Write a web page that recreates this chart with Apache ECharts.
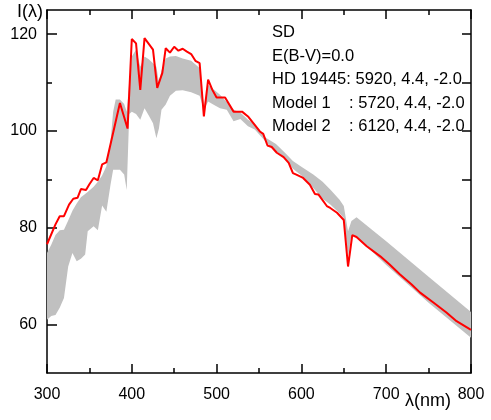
<!DOCTYPE html>
<html>
<head>
<meta charset="utf-8">
<script src="https://cdn.jsdelivr.net/npm/echarts@6/dist/echarts.min.js"></script>
<style>
html,body{margin:0;padding:0;background:#fff;}
#chart{width:491px;height:420px;}
</style>
</head>
<body>
<div id="chart"></div>
<script>
// Observed spectrum HD 19445 (red line)
const obsWave = [300,310,315,320,326,331,336,340,346,350,355,360,365,370,386,395,400,405,410,415,420,425,430,436,440,445,450,455,460,465,470,475,480,485,490,495,500,510,520,530,537,551,555,560,565,571,579,585,590,594,602,610,616,620,630,634,642,650,655,660,665,677,693,704,716,730,740,756,771,783,800];
const obsFlux = [76.6,80.7,82.4,82.4,84.8,86.0,86.2,88.0,87.8,89.0,90.3,89.8,93.1,93.5,105.8,100.5,119.0,118.1,108.5,119.2,118.0,116.8,108.9,112.0,117.1,116.2,117.4,116.6,117.0,116.4,115.9,114.5,114.0,103.0,110.6,108.5,106.9,106.9,104.0,104.0,103.0,99.9,99.4,97.0,96.7,95.5,94.6,93.4,91.3,91.0,90.3,88.9,87.0,86.9,84.5,84.1,83.1,81.6,72.0,78.5,78.1,76.2,74.1,72.4,70.4,68.3,66.6,64.5,62.5,60.7,58.9];

// Model range (grey band): lower and upper envelopes
const bandWave  = [300,305,310,315,320,325,330,335,340,345,348,355,360,365,370,375,378,381,386,391,394,397,400,405,410,415,420,425,429,432,435,440,445,452,460,470,480,485,490,496,504,512,520,528,537,545,558,570,580,590,600,614,625,634,645,650,655,659,665,700,750,800];
const bandLower = [61.0,61.8,62.0,63.5,65.5,72.0,74.8,73.1,73.6,74.5,79.3,80.3,79.5,84.6,83.3,89.0,92.0,92.0,92.0,91.0,87.8,103.5,104.0,103.5,102.3,104.7,103.2,101.6,98.5,100.5,104.4,105.5,107.3,108.3,108.4,108.0,107.3,104.4,106.1,105.5,104.7,104.4,102.0,102.5,101.0,100.3,97.8,95.8,94.6,92.2,90.8,88.2,86.0,84.8,83.0,82.0,74.0,78.5,78.2,72.3,64.5,57.3];
const bandUpper = [74.8,76.5,78.5,79.5,79.6,81.5,83.5,85.0,86.3,87.0,87.4,88.5,89.5,90.8,92.7,98.0,104.0,106.5,106.5,105.6,104.0,110.0,115.4,116.8,113.3,115.4,114.8,114.0,113.3,110.0,112.5,115.0,115.4,115.5,115.0,114.5,113.0,105.0,109.5,108.7,107.5,106.0,104.4,103.8,102.3,101.5,98.6,97.3,95.6,93.8,92.6,91.0,89.5,87.9,85.8,84.5,79.3,81.4,82.2,77.2,69.9,62.6];

const yLabels = [60,80,100,120];
const yMinor = [70,90,110];
const yAll = [60,70,80,90,100,110,120];

const legendLines = ['SD','E(B-V)=0.0','HD 19445: 5920, 4.4, -2.0','Model 1    : 5720, 4.4, -2.0','Model 2    : 6120, 4.4, -2.0'];

const FONT = 'Liberation Sans';
const chart = echarts.init(document.getElementById('chart'), null, {renderer:'canvas'});

const bandData = bandWave.map((w,i)=>[w,bandLower[i],bandUpper[i]]);
const obsData = obsWave.map((w,i)=>[w,obsFlux[i]]);

const axisLine = {show:true, lineStyle:{color:'#000', width:1.5}};
const labelStyle = {color:'#000', fontFamily:FONT, fontSize:16};

const legendGraphics = legendLines.map((t,i)=>({
  type:'text', left:272, top:24 + i*23.5, z:100,
  style:{text:t, fill:'#000', font:'16.5px "Liberation Sans"'}
}));

chart.setOption({
  animation:false,
  backgroundColor:'#fff',
  grid:{left:47, right:20, top:10, bottom:47},
  xAxis:[
    {type:'value', position:'bottom', min:300, max:800, interval:100,
     axisLine, splitLine:{show:false},
     axisTick:{show:true, inside:true, length:9, lineStyle:{color:'#000', width:1.5}},
     minorTick:{show:true, splitNumber:2, length:5, lineStyle:{color:'#000', width:1.5}},
     axisLabel:{...labelStyle, margin:14}},
    {type:'value', position:'top', min:300, max:800, interval:100,
     axisLine, splitLine:{show:false},
     axisTick:{show:true, inside:true, length:9, lineStyle:{color:'#000', width:1.5}},
     minorTick:{show:true, splitNumber:2, length:5, lineStyle:{color:'#000', width:1.5}},
     axisLabel:{show:false}}
  ],
  yAxis:[
    {type:'value', position:'left', min:50, max:125,
     axisLine, splitLine:{show:false},
     axisTick:{show:true, inside:true, length:10, customValues:yLabels, lineStyle:{color:'#000', width:1.5}},
     axisLabel:{...labelStyle, margin:10, customValues:yLabels}},
    {type:'value', position:'left', min:50, max:125,
     axisLine:{show:false}, splitLine:{show:false},
     axisTick:{show:true, inside:true, length:5, customValues:yMinor, lineStyle:{color:'#000', width:1.5}},
     axisLabel:{show:false}},
    {type:'value', position:'right', min:50, max:125,
     axisLine, splitLine:{show:false},
     axisTick:{show:true, inside:true, length:9, customValues:yAll, lineStyle:{color:'#000', width:1.5}},
     axisLabel:{show:false}}
  ],
  series:[
    {type:'custom', data:bandData, silent:true, z:1,
     encode:{x:0, y:[1,2]},
     renderItem:function(params, api){
       if (params.dataIndex !== 0) return null;
       const top = bandData.map(d=>api.coord([d[0], d[2]]));
       const bot = bandData.map(d=>api.coord([d[0], d[1]])).reverse();
       return {type:'polygon', shape:{points: top.concat(bot)}, style:{fill:'#c0c0c0'}};
     }},
    {type:'line', data:obsData, symbol:'none', lineStyle:{color:'#ff0000', width:2}, z:3}
  ],
  graphic:[
    {type:'text', left:17, top:3, z:100, style:{text:'I(λ)', fill:'#000', font:'18px "Liberation Sans"'}},
    {type:'text', left:405, top:392, z:100, style:{text:'λ(nm)', fill:'#000', font:'18px "Liberation Sans"'}},
    ...legendGraphics
  ]
});
</script>
</body>
</html>
